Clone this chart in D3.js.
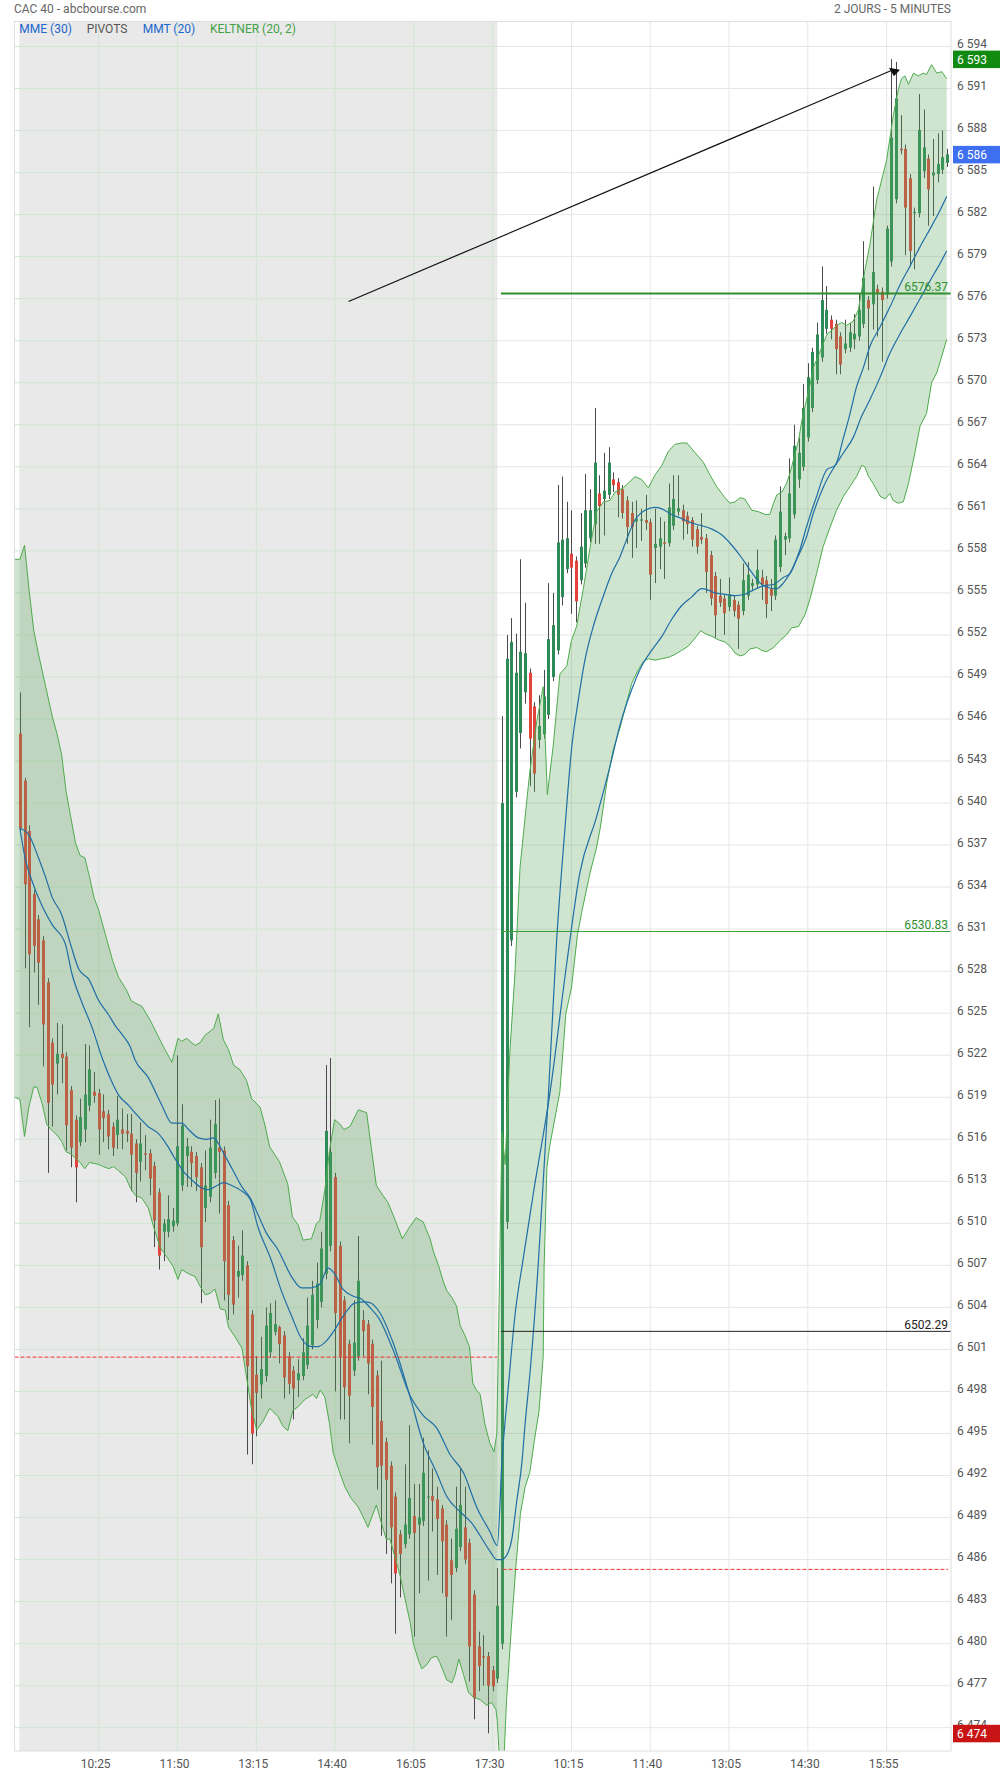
<!DOCTYPE html>
<html><head><meta charset="utf-8">
<script src="https://cdn.jsdelivr.net/npm/d3@7"></script>
<style>body{margin:0;background:#fff;} svg{display:block;font-family:Roboto,"Noto Sans",sans-serif;}</style>
</head><body><svg id="c" width="1000" height="1774"></svg>
<script>
// ---------- DATA ----------
const opens = [6544.95,6541.6,6538.0,6533.5,6531.7,6530.2,6527.2,6522.9,6521.4,6522.1,
 6521.9,6519.5,6517.4,6515.8,6516.7,6518.4,6519.4,6519.3,6518.0,6517.8,
 6516.9,6516.3,6516.7,6516.6,6516.4,6515.7,6514.4,6515.0,6515.0,6514.1,
 6512.2,6509.4,6509.4,6509.8,6510.0,6512.7,6514.8,6515.1,6514.8,6514.0,
 6511.1,6511.9,6513.6,6515.4,6515.2,6511.3,6508.8,6506.2,6506.3,6507.0,
 6503.5,6499.2,6498.5,6499.1,6500.8,6502.25,6502.6,6502.0,6500.5,6499.5,
 6498.8,6499.1,6499.9,6501.3,6503.1,6504.4,6506.4,6508.4,6513.3,6508.4,
 6504.5,6501.4,6499.5,6500.5,6503.1,6502.8,6501.4,6499.15,6495.9,6494.4,
 6492.7,6490.5,6487.8,6487.1,6487.8,6489.1,6488.5,6488.75,6490.5,6490.55,
 6490.3,6489.65,6488.5,6485.95,6485.4,6486.9,6488.3,6487.2,6483.5,6479.8,
 6479.1,6479.1,6478.1,6477.5,
 6480.0,6510.1,6530.2,6540.8,6545.0,6547.9,6549.3,6546.9,6544.5,6544.9,
 6546.3,6549.0,6550.9,6554.7,6556.7,6557.8,6557.3,6555.9,6557.1,6558.9,
 6559.9,6562.1,6561.7,6562.0,6563.1,6562.9,6562.4,6561.6,6560.7,6560.1,
 6560.15,6560.2,6560.05,6558.2,6558.3,6558.6,6558.55,6559.8,6560.8,6560.9,
 6560.5,6560.2,6559.55,6559.0,6558.9,6557.7,6556.2,6554.8,6554.6,6554.0,
 6554.5,6554.15,6553.7,6554.8,6555.5,6555.6,6556.1,6555.9,6555.3,6554.8,
 6556.85,6558.8,6558.9,6560.6,6563.1,6564.0,6566.1,6568.2,6570.2,6571.8,
 6573.85,6574.5,6574.2,6573.3,6572.4,6572.5,6573.1,6573.3,6574.2,6575.9,
 6575.6,6576.7,6576.5,6576.3,6578.65,6583.1,6586.7,6586.7,6584.6,6582.1,
 6582.1,6585.1,6586.0,6584.8,6584.9,6585.2,6585.7];
const closes = [6538.2,6534.2,6529.2,6529.8,6528.6,6524.2,6518.6,6519.9,6522.1,6521.8,
 6517.0,6515.4,6514.0,6517.6,6519.2,6521.0,6519.1,6516.7,6517.5,6516.2,
 6515.4,6517.4,6516.4,6516.4,6514.9,6513.6,6515.7,6514.9,6513.2,6510.2,
 6507.7,6510.0,6510.3,6510.2,6515.5,6517.0,6515.5,6514.3,6513.3,6508.3,
 6512.7,6515.4,6517.1,6515.1,6507.3,6504.9,6504.2,6506.6,6507.7,6499.8,
 6495.0,6497.9,6499.6,6502.7,6503.6,6502.8,6501.4,6499.0,6498.55,6498.2,
 6499.3,6500.8,6502.7,6504.9,6505.7,6508.2,6516.6,6515.1,6503.6,6500.5,
 6498.3,6497.7,6501.5,6505.9,6502.3,6500.0,6496.9,6492.6,6492.7,6491.7,
 6488.3,6485.0,6486.4,6488.5,6490.4,6487.9,6489.0,6492.2,6490.5,6490.2,
 6488.9,6487.3,6483.35,6484.9,6488.2,6489.9,6486.0,6479.8,6476.1,6478.4,
 6479.0,6477.0,6476.95,6482.7,
 6540.0,6550.3,6551.5,6549.3,6550.8,6550.7,6544.6,6542.1,6545.5,6547.6,
 6551.7,6552.7,6558.6,6558.8,6558.9,6556.8,6554.4,6558.3,6560.9,6560.9,
 6564.3,6561.2,6562.3,6564.3,6562.7,6562.0,6560.7,6559.7,6559.7,6560.3,
 6560.25,6560.0,6556.3,6558.5,6558.9,6558.5,6561.1,6561.7,6561.05,6560.1,
 6559.9,6558.8,6558.3,6558.8,6556.5,6554.6,6553.4,6554.3,6553.55,6554.9,
 6553.7,6553.15,6555.9,6556.3,6555.7,6556.65,6555.6,6554.2,6554.8,6558.8,
 6560.8,6559.05,6562.1,6565.5,6565.0,6568.2,6570.4,6572.2,6573.45,6575.9,
 6575.2,6573.85,6572.4,6571.3,6572.8,6573.6,6573.5,6575.2,6577.5,6575.3,
 6577.9,6576.4,6575.9,6581.0,6587.5,6590.3,6586.6,6582.5,6579.4,6582.2,
 6588.05,6586.8,6583.8,6585.0,6585.6,6586.1,6586.3];
const highs = [6547.9,6541.8,6538.4,6533.8,6532.0,6530.5,6527.5,6523.2,6524.3,6524.2,
 6522.2,6519.8,6517.7,6518.9,6522.8,6522.7,6520.8,6519.6,6519.2,6518.1,
 6517.2,6519.1,6518.2,6517.8,6517.8,6516.0,6517.2,6516.3,6515.3,6514.4,
 6512.5,6510.3,6512.0,6511.1,6522.0,6518.5,6516.1,6515.5,6515.1,6514.3,
 6515.2,6517.4,6518.8,6518.9,6515.5,6511.6,6509.1,6508.4,6509.5,6507.3,
 6503.8,6500.5,6501.9,6504.0,6504.3,6504.5,6502.7,6502.3,6500.8,6499.8,
 6500.3,6501.8,6504.7,6505.9,6507.2,6509.4,6521.3,6521.8,6513.6,6508.7,
 6504.8,6501.7,6504.5,6509.1,6503.8,6503.1,6501.7,6499.5,6500.2,6494.7,
 6493.0,6490.8,6488.1,6492.8,6495.6,6491.4,6491.4,6494.7,6493.8,6492.5,
 6491.2,6489.9,6488.8,6487.5,6491.2,6492.5,6491.2,6487.5,6483.8,6480.85,
 6480.6,6479.4,6478.4,6485.4,
 6546.2,6552.0,6553.2,6552.1,6557.4,6554.3,6549.6,6547.2,6547.7,6549.5,
 6555.7,6555.0,6562.7,6563.3,6561.5,6560.9,6557.6,6560.7,6563.5,6562.4,
 6568.2,6563.4,6565.0,6565.4,6563.6,6563.2,6562.7,6561.9,6561.5,6561.6,
 6561.0,6562.0,6560.3,6561.0,6560.4,6560.1,6562.8,6563.4,6563.4,6561.3,
 6560.8,6560.4,6559.8,6560.7,6559.2,6558.0,6556.5,6556.0,6554.9,6556.1,
 6554.8,6554.4,6557.1,6557.2,6556.0,6558.1,6556.65,6556.2,6556.0,6559.1,
 6562.6,6559.3,6564.6,6567.0,6566.1,6569.9,6571.4,6572.5,6574.3,6578.3,
 6576.9,6574.8,6574.5,6573.6,6574.5,6574.25,6574.9,6576.4,6580.1,6576.2,
 6584.0,6577.0,6576.8,6581.2,6593.1,6592.9,6589.1,6587.0,6584.9,6582.5,
 6590.6,6589.5,6586.3,6587.4,6587.8,6588.0,6586.7];
const lows = [6538.0,6528.2,6524.0,6527.9,6525.6,6521.2,6513.6,6516.9,6519.2,6520.0,
 6515.2,6514.0,6511.5,6515.5,6515.8,6518.0,6518.6,6514.9,6515.8,6515.3,
 6514.8,6515.3,6515.3,6515.8,6512.3,6511.5,6513.0,6513.8,6512.0,6508.3,
 6506.7,6507.3,6509.0,6509.4,6509.8,6512.3,6512.6,6512.6,6512.3,6504.3,
 6510.1,6511.5,6513.2,6510.7,6504.5,6503.1,6503.5,6504.7,6505.9,6493.5,
 6492.8,6494.8,6497.5,6498.7,6500.4,6502.0,6500.0,6497.5,6497.8,6496.0,
 6497.6,6498.8,6499.6,6501.0,6502.5,6504.0,6506.0,6508.0,6498.0,6496.0,
 6496.0,6494.3,6499.1,6500.2,6500.5,6497.8,6494.2,6491.0,6487.7,6486.4,
 6484.3,6480.7,6483.3,6486.8,6487.5,6480.5,6483.6,6488.4,6484.5,6488.0,
 6484.9,6483.6,6480.5,6481.7,6485.1,6486.6,6485.7,6477.3,6474.6,6476.6,
 6477.0,6473.6,6476.6,6477.2,
 6479.6,6509.6,6529.8,6540.4,6543.9,6547.1,6541.2,6540.8,6543.9,6544.6,
 6546.0,6548.7,6550.6,6554.1,6556.4,6553.5,6552.9,6555.6,6556.8,6558.6,
 6558.5,6558.5,6559.1,6561.7,6562.2,6560.4,6560.3,6558.5,6557.5,6558.2,
 6558.7,6559.5,6554.5,6555.7,6556.7,6556.0,6558.3,6559.5,6560.5,6558.8,
 6559.2,6558.3,6557.8,6558.5,6555.0,6554.1,6551.8,6554.0,6552.0,6553.7,
 6553.3,6551.0,6553.4,6554.5,6555.2,6555.3,6554.5,6553.2,6553.7,6554.5,
 6556.5,6557.7,6558.6,6560.3,6562.5,6563.7,6565.8,6567.9,6569.9,6571.5,
 6573.5,6573.1,6570.6,6570.6,6572.1,6572.2,6572.4,6573.0,6573.9,6570.9,
 6573.8,6573.3,6571.5,6576.0,6578.3,6582.8,6586.3,6579.1,6578.3,6578.1,
 6581.8,6584.6,6581.2,6581.9,6584.3,6584.9,6585.4];

// Keltner (20, 2) band edges, read at bar positions
const kcUpIdx = [-1.15,0,1,2,3,4,5.5,7,8,9,10,11,12,13,14,15,16,17,18,20,21.3,23,24,25,26.3,28.1,29.9,31.3,32.8,34.1,34.9,36,37.8,38.9,40,41.8,42.8,43.9,45,46.1,47.5,48.9,50,51.8,52.8,53.9,56,57.8,58.8,60,61.1,62.9,64,64.7,65.8,66.8,67.9,69,69.9,71.2,73,74.8,76.9,78.3,79.4,81,82.5,84,85.5,87,88.5,89.2,90.3,91.4,92.1,93.2,94.2,95,96,97,97.7,98.5,99.3,100.3,101.4,102.3,102.9,104,104.7,105.7,106.8,107.9,109,110,111.5,112.9,113.8,115.1,116.5,118,119,120.1,121.6,123,124.4,125.9,127.3,128.4,130.2,132.7,134.1,135.6,137,138.5,139.9,141.3,142.8,143.9,145.7,147.5,148.9,150.3,152.1,153.2,154.3,155.4,156.4,157.9,159.3,160.8,161.8,162.6,163.3,164.4,165.4,166.1,166.9,168,168.7,169.7,170.5,171.2,172.3,173.3,174.2,175.1,176.2,177.3,178.4,179.8,180.9,181.6,182.3,183.4,184.85,187,188.4,189.5,190.2,190.96,191.7,192.8,193.8,194.9,195.6,196.7,197.8,198.9,199.96];
const kcUp = [6557.4,6557.4,6558.4,6555.15,6552.3,6550.65,6548.4,6546.15,6544.95,6543.45,6540.75,6538.95,6537.15,6536.25,6536.1,6534.75,6533.25,6532.35,6531.15,6528.75,6527.55,6526.65,6525.9,6525.7,6525.5,6524.5,6523.3,6522.4,6521.5,6523.2,6523.0,6523.2,6522.7,6522.9,6523.45,6523.9,6524.95,6523.1,6522.4,6521.3,6520.95,6520.2,6518.9,6518.3,6517.1,6515.45,6514.4,6512.8,6510.45,6509.9,6508.8,6508.9,6510.0,6510.2,6512.4,6515.2,6517.4,6517.1,6516.7,6516.9,6518.1,6517.9,6512.7,6512.0,6511.5,6510.2,6508.9,6509.7,6510.4,6510.1,6508.9,6508.0,6507.0,6505.8,6505.2,6504.7,6504.1,6502.7,6502.0,6501.2,6498.6,6498.1,6497.8,6495.7,6494.3,6493.7,6495.0,6516.5,6514.2,6522.2,6527.8,6535.4,6539.0,6542.2,6545.8,6548.3,6540.6,6544.2,6549.2,6549.8,6551.6,6552.6,6555.4,6558.2,6560.8,6561.5,6561.6,6562.2,6562.5,6563.3,6563.1,6562.5,6563.4,6564.1,6565.1,6565.6,6565.7,6565.7,6565.0,6564.3,6563.4,6562.6,6561.8,6561.4,6561.5,6561.8,6561.7,6560.9,6560.8,6560.6,6560.6,6561.4,6562.0,6562.2,6562.8,6563.5,6564.5,6565.9,6567.3,6568.75,6569.9,6571.1,6571.95,6572.8,6573.5,6573.7,6574.1,6574.3,6574.1,6574.4,6575.2,6576.6,6578.0,6579.9,6583.05,6585.9,6589.0,6590.9,6591.7,6591.9,6591.3,6592.1,6591.9,6592.1,6592.0,6592.7,6592.1,6592.2,6591.7];
const kcLoIdx = [-1.15,0,1,1.9,3,3.7,4.8,5.8,7,8,9,10,11,12,13,14,15,17,18,19.2,20.2,21.3,22.8,23.8,24.9,26.3,27.7,28.8,30.2,31.7,33.1,34.1,34.9,36.4,37.8,38.9,40,41,42.1,43.2,44.3,45,46.4,47.9,49,50,51.1,52.5,53.9,55.7,56.8,57.8,58.9,60,61.4,63.2,64,64.8,65.8,66.8,67.6,68.6,70.1,71.5,73,74.4,75.1,76.9,78,79.1,79.8,82,83.1,84.2,84.9,86,86.7,87.8,88.8,89.9,90.6,92.1,93.2,93.9,94.7,95.7,96.8,97.8,99.3,100.7,101.8,102.7,103,104,105,106,107,108,109,110,111,112,112.9,113.1,113.7,114.3,116.5,117.8,119,120.3,121.2,123,124.4,125.2,126.6,128,129.5,132,133.4,134.5,135.6,137,138.5,139.9,141.3,142.8,144.2,146,146.9,147.8,149.3,150.7,152.1,153.2,154.3,155.4,156.4,157.5,159,160,161.1,162.6,164,165.4,166.5,168,169.4,170.5,171.9,173.3,174.8,176.2,177.7,179.1,180.5,181.6,182.3,183.1,184.1,185.6,186.65,187.7,188.4,189.5,190.6,191.7,193.1,194.2,195.6,196.7,197.8,198.9,199.96];
const kcLo = [6519.0,6518.85,6516.2,6518.25,6519.75,6519.7,6518.55,6517.05,6516.6,6516.3,6515.85,6515.1,6514.95,6514.65,6514.35,6513.9,6514.35,6514.2,6514.05,6513.9,6514.05,6513.75,6513.3,6512.55,6512.0,6511.8,6511.1,6509.8,6508.3,6507.6,6506.9,6506.0,6506.7,6506.4,6506.2,6505.5,6504.9,6505.0,6505.3,6503.9,6503.8,6502.6,6501.9,6501.1,6498.8,6496.7,6495.25,6495.9,6496.8,6496.2,6495.5,6495.2,6496.65,6496.9,6497.4,6497.8,6497.5,6498.1,6497.6,6495.7,6493.6,6492.6,6491.2,6490.35,6489.75,6488.8,6488.3,6489.9,6488.6,6487.4,6487.5,6484.9,6483.2,6481.5,6480.0,6478.8,6478.2,6478.5,6479.0,6479.1,6478.65,6477.4,6477.2,6477.8,6478.9,6477.8,6476.5,6476.2,6476.0,6475.6,6475.8,6475.3,6474.5,6468.5,6476.0,6481.0,6485.5,6489.3,6491.2,6492.2,6494.5,6496.6,6500.5,6506.9,6514.0,6515.5,6519.4,6525.0,6526.8,6530.6,6532.2,6535.0,6536.8,6538.2,6541.4,6543.8,6545.4,6548.55,6549.5,6550.1,6550.3,6550.2,6550.3,6550.4,6550.6,6550.9,6551.2,6551.9,6552.3,6552.1,6551.9,6551.65,6551.5,6551.2,6550.7,6550.5,6550.6,6551.0,6551.1,6550.9,6550.8,6551.1,6551.6,6552.0,6552.5,6552.6,6553.45,6554.6,6556.4,6558.3,6559.7,6560.9,6561.9,6562.6,6563.3,6564.1,6564.0,6563.3,6562.8,6561.9,6561.7,6562.1,6561.6,6561.4,6561.5,6562.8,6565.0,6566.9,6567.8,6570.0,6570.7,6571.9,6573.1];

// MME (30)
const mmeIdx = [0,1.9,4,5.5,7,9,10.9,12.7,14.9,17,19.2,20.6,22,23.8,24.8,27.7,30.6,32.8,34.9,36.4,38.5,40.3,41.8,42.8,44.3,46.1,47.9,49.7,51.4,53.2,55.7,58.6,60.7,62.9,64.7,66.5,67.9,69.7,71.9,73.7,75.5,77.5,80.6,84.2,87,89.9,92.8,95.7,98.6,101.4,103,104,105.4,106.8,108.6,110.8,114.4,118,120.8,124.4,127.3,129.5,132,134.1,136.3,138.5,140.6,142.8,144.9,147.1,148.5,150,152.1,154.3,156.4,158.2,160.4,162.6,164.7,166.2,167.6,169.7,171.2,173.4,175.9,177.7,179.8,181.6,183.4,185.6,187.7,189.9,192,194.2,196.4,198.5,199.95];
const mme = [6538.2,6537.75,6536.1,6534.75,6533.25,6532.05,6529.95,6528.15,6527.4,6525.9,6524.85,6524.1,6523.5,6522.6,6521.7,6520.4,6518.45,6517.15,6517.15,6516.7,6516.1,6516.0,6516.1,6515.7,6514.8,6513.7,6512.6,6511.8,6510.6,6509.3,6508.1,6506.2,6505.4,6505.4,6505.65,6506.8,6506.4,6505.3,6504.8,6504.6,6504.0,6503.2,6500.9,6497.7,6496.3,6495.4,6493.5,6492.2,6489.7,6488.0,6487.0,6493.0,6498.4,6503.4,6507.5,6512.2,6519.4,6528.6,6535.0,6539.0,6542.6,6545.6,6548.1,6549.75,6550.9,6551.9,6553.1,6554.1,6554.7,6555.3,6555.2,6555.0,6554.9,6554.8,6554.9,6555.2,6555.5,6555.6,6556.1,6556.4,6557.4,6559.0,6560.7,6562.6,6564.1,6565.0,6566.1,6567.6,6568.8,6570.4,6572.1,6573.5,6574.7,6576.0,6577.3,6578.5,6579.4];

// MMT (20)
const mmtIdx = [0,1.2,2.6,4.8,7,9.8,11.2,13.4,15.6,17.7,19.9,21.3,23.5,24.8,27.7,29.9,31.7,33.5,35.3,37.1,38.9,40.7,42.5,43.9,45.7,47.9,49.7,51.4,54.2,56.4,58.6,60.7,62.9,64.3,65.8,67.9,70.1,72.2,74.4,75.8,77.7,80.6,84.2,87,89.9,92.1,95,97.5,99.3,101.4,102.9,103.9,105,106.1,107.2,108.3,109,110.1,111.8,113.3,114,115.8,117.6,119,120.5,121.9,123.7,125.9,127.7,129.5,130.6,132.7,134.9,137,138.5,140.6,142.8,144.9,147.1,149.3,151.4,153.6,155.4,157.5,159.7,161.8,163.3,164.7,166.9,168.3,169.7,171.9,174.1,175.9,177.7,179.1,180.5,182,183.4,185.6,187.7,189.9,192,194.2,196.4,198.5,199.95];
const mmt = [6538.2,6535.95,6534.45,6532.65,6531.3,6529.95,6527.85,6525.75,6523.95,6521.85,6520.05,6519.15,6518.4,6517.9,6516.9,6516.4,6515.6,6514.6,6513.7,6513.1,6512.6,6512.4,6512.7,6512.9,6512.7,6512.3,6511.7,6509.7,6507.4,6505.2,6503.4,6501.8,6501.2,6501.2,6501.5,6502.4,6503.55,6504.3,6504.4,6504.3,6503.6,6501.4,6497.6,6494.35,6492.2,6490.5,6489.4,6488.6,6487.7,6486.6,6486.0,6486.0,6486.3,6487.4,6490.2,6492.9,6495.7,6499.5,6506.9,6515.2,6519.0,6530.2,6538.2,6543.8,6547.4,6550.2,6552.6,6554.8,6556.4,6557.6,6558.55,6560.2,6560.9,6561.1,6561.0,6560.6,6560.3,6560.0,6559.8,6559.55,6559.15,6558.4,6557.65,6556.65,6555.7,6555.35,6555.3,6555.7,6556.9,6558.1,6559.7,6561.9,6563.8,6564.1,6566.1,6567.8,6569.7,6571.1,6572.6,6574.0,6575.4,6577.0,6578.3,6579.7,6581.0,6582.3,6583.3];

// Pivot / support levels
const pivotLevels = [6576.37, 6530.83, 6502.29];
const pivotLabels = ["6576.37", "6530.83", "6502.29"];
const supportDay1 = 6500.45;
const supportDay2 = 6485.3;
// trend arrow (bar index, value)
const arrowFrom = [70.9, 6575.8];
const arrowTo = [188.15, 6592.3];

// axes
const xTickIdx = [17,34,51,68,85,102,119,136,153,170,187];
const xTickLabels = ["10:25","11:50","13:15","14:40","16:05","17:30","10:15","11:40","13:05","14:30","15:55"];
const yTicks = d3.range(6474, 6595, 3);
const legendItems = ["MME (30)", "PIVOTS", "MMT (20)", "KELTNER (20, 2)"];
const day1LastIdx = 103, day2FirstIdx = 104;

// ---------- DRAW ----------
const svg = d3.select("#c");
const P = {left:14.5, right:951, top:21.5, bottom:1751};
const x = d3.scaleLinear().domain([0,200]).range([19.9,946.9]);
const y = d3.scaleLinear().domain([6474,6594]).range([1727.7,46.5]);
const fmt = v => d3.format(",")(Math.round(v)).replace(/,/g, " ");

svg.append("rect").attr("width",1000).attr("height",1774).attr("fill","#fff");
svg.append("defs").append("clipPath").attr("id","pc").append("rect")
  .attr("x",P.left).attr("y",P.top).attr("width",P.right-P.left).attr("height",P.bottom-P.top);

const g = svg.append("g").attr("clip-path","url(#pc)");
const xSplit = x(day1LastIdx);
g.append("rect").attr("x",x(-0.1)).attr("y",P.top).attr("width",xSplit-x(-0.1)).attr("height",P.bottom-P.top).attr("fill","#e9e9e9");

// grid
yTicks.forEach(v=>{
  g.append("line").attr("x1",P.left).attr("x2",xSplit).attr("y1",y(v)).attr("y2",y(v)).attr("stroke","#d2e6d2").attr("stroke-width",1);
  g.append("line").attr("x1",xSplit).attr("x2",P.right).attr("y1",y(v)).attr("y2",y(v)).attr("stroke","#e6e6e6").attr("stroke-width",1);
});
xTickIdx.forEach(i=>{
  g.append("line").attr("x1",x(i)).attr("x2",x(i)).attr("y1",P.top).attr("y2",P.bottom)
   .attr("stroke", i<=day1LastIdx ? "#d2e6d2" : "#e6e6e6").attr("stroke-width",1);
});

// candles
const idx = d3.range(opens.length);
g.append("g").selectAll("line").data(idx).join("line")
  .attr("x1",i=>Math.round(x(i))+0.5).attr("x2",i=>Math.round(x(i))+0.5)
  .attr("y1",i=>y(highs[i])).attr("y2",i=>y(lows[i]))
  .attr("stroke","#4a4a4a").attr("stroke-width",1);
g.append("g").selectAll("rect").data(idx).join("rect")
  .attr("x",i=>Math.round(x(i))-1).attr("width",3)
  .attr("y",i=>y(Math.max(opens[i],closes[i])))
  .attr("height",i=>Math.max(1, Math.abs(y(opens[i])-y(closes[i]))))
  .attr("fill",i=>closes[i]>=opens[i] ? "#2e8b57" : "#e2433b");

// Keltner band
const upPts = kcUpIdx.map((k,i)=>[x(k), y(kcUp[i])]);
const loPts = kcLoIdx.map((k,i)=>[x(k), y(kcLo[i])]);
const ln = d3.line();
g.append("path").attr("d", ln(upPts.concat(loPts.slice().reverse()))+"Z")
  .attr("fill","rgb(95,168,95)").attr("fill-opacity",0.3);
g.append("path").attr("d", ln(upPts)).attr("fill","none").attr("stroke","#4dab4d").attr("stroke-width",1);
g.append("path").attr("d", ln(loPts)).attr("fill","none").attr("stroke","#4dab4d").attr("stroke-width",1);

// MME / MMT
const sm = d3.line().curve(d3.curveMonotoneX);
g.append("path").attr("d", sm(mmeIdx.map((k,i)=>[x(k), y(mme[i])]))).attr("fill","none").attr("stroke","#1f6ea6").attr("stroke-width",1.2);
g.append("path").attr("d", sm(mmtIdx.map((k,i)=>[x(k), y(mmt[i])]))).attr("fill","none").attr("stroke","#1f6ea6").attr("stroke-width",1.2);

// support lines (dashed red)
g.append("line").attr("x1",P.left).attr("x2",x(day1LastIdx)).attr("y1",y(supportDay1)).attr("y2",y(supportDay1))
  .attr("stroke","#f03030").attr("stroke-width",1).attr("stroke-dasharray","4,2");
g.append("line").attr("x1",x(day2FirstIdx)+0.5).attr("x2",P.right-3).attr("y1",y(supportDay2)).attr("y2",y(supportDay2))
  .attr("stroke","#f03030").attr("stroke-width",1).attr("stroke-dasharray","4,2");

// pivot lines
const pivStyle = [{c:"#2f8f2f",w:2,t:"#2f8f2f"},{c:"#3aa03a",w:1,t:"#2f8f2f"},{c:"#222",w:1,t:"#222"}];
pivotLevels.forEach((v,k)=>{
  g.append("line").attr("x1",x(day2FirstIdx)-1).attr("x2",P.right).attr("y1",y(v)).attr("y2",y(v))
    .attr("stroke",pivStyle[k].c).attr("stroke-width",pivStyle[k].w);
  svg.append("text").attr("x",948).attr("y",y(v)-2.5).attr("text-anchor","end")
    .attr("font-size",12).attr("fill",pivStyle[k].t).text(pivotLabels[k]);
});

// arrow
const ax1 = x(arrowFrom[0]), ay1 = y(arrowFrom[1]), ax2 = x(arrowTo[0]), ay2 = y(arrowTo[1]);
g.append("line").attr("x1",ax1).attr("y1",ay1).attr("x2",ax2).attr("y2",ay2).attr("stroke","#111").attr("stroke-width",1.2);
g.append("path").attr("d",`M${ax2-3},${ay2-2.5}L${ax2+8},${ay2-0.5}L${ax2+2},${ay2+6}Z`).attr("fill","#111");

// frame
svg.append("rect").attr("x",P.left).attr("y",P.top).attr("width",P.right-P.left).attr("height",P.bottom-P.top)
  .attr("fill","none").attr("stroke","#dedede").attr("stroke-width",1);

// y axis labels
yTicks.forEach(v=>{
  svg.append("text").attr("x",957).attr("y",y(v)+1.5).attr("font-size",12).attr("fill","#555").text(fmt(v));
});
// x axis labels
xTickIdx.forEach((i,k)=>{
  svg.append("text").attr("x",x(i)-3).attr("y",1768).attr("text-anchor","middle").attr("font-size",12).attr("fill","#555").text(xTickLabels[k]);
});

// value tags
const tags = [
  {v:d3.max(highs), fill:"#118a11"},
  {v:closes[closes.length-1], fill:"#3d6ff0"},
  {v:d3.min(lows), fill:"#c81414"}
];
tags.forEach(t=>{
  svg.append("rect").attr("x",953).attr("y",y(t.v)-8.5).attr("width",47).attr("height",17.5).attr("fill",t.fill);
  svg.append("text").attr("x",957).attr("y",y(t.v)+4.5).attr("font-size",12).attr("fill","#fff").text(fmt(t.v));
});

// header + legend
svg.append("text").attr("x",14).attr("y",13).attr("font-size",12).attr("fill","#666").text("CAC 40 - abcbourse.com");
svg.append("text").attr("x",951).attr("y",13).attr("text-anchor","end").attr("font-size",12).attr("fill","#666").text("2 JOURS - 5 MINUTES");
const legX = [19.3, 86.7, 142.7, 210];
const legC = ["#1b66cc", "#555", "#1b66cc", "#43a047"];
legendItems.forEach((s,k)=>{
  svg.append("text").attr("x",legX[k]).attr("y",32.7).attr("font-size",12).attr("fill",legC[k]).text(s);
});
</script>
</body></html>
